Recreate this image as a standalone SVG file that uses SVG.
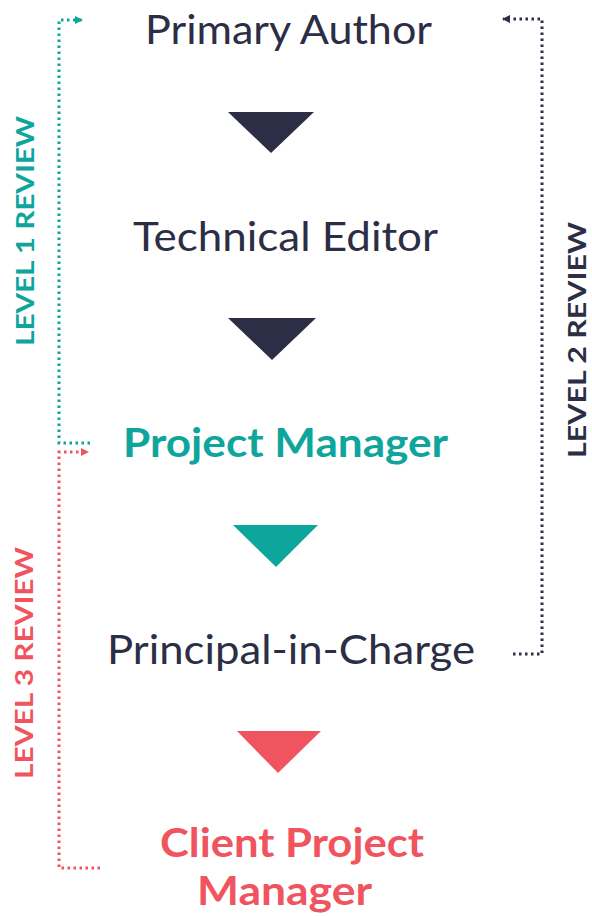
<svg xmlns="http://www.w3.org/2000/svg" width="592" height="916" viewBox="0 0 592 916">
<style>
.t{font-family:Lato,"Liberation Sans",sans-serif;font-size:41px;text-anchor:middle;fill:#2b2e44}
.b{font-weight:bold}
.lab{font-family:Lato,"Liberation Sans",sans-serif;font-size:25px;font-weight:bold;text-anchor:middle}
.dot{fill:none;stroke-width:3;stroke-dasharray:2.5 3.5}
</style>
<defs>
<marker id="aT" markerWidth="8" markerHeight="8" refX="7" refY="4" orient="auto" markerUnits="userSpaceOnUse"><path d="M0,0 L8,4 L0,8 Z" fill="#0ea59c"/></marker>
<marker id="aD" markerWidth="8" markerHeight="8" refX="7" refY="4" orient="auto" markerUnits="userSpaceOnUse"><path d="M0,0 L8,4 L0,8 Z" fill="#2b2e44"/></marker>
<marker id="aR" markerWidth="8" markerHeight="8" refX="7" refY="4" orient="auto" markerUnits="userSpaceOnUse"><path d="M0,0 L8,4 L0,8 Z" fill="#f0545e"/></marker>
</defs>
<g id="connectors">
<path class="dot" stroke="#0ea59c" d="M90,443 H59 V20 H82" marker-end="url(#aT)"/>
<path class="dot" stroke="#2b2e44" d="M513,654 H542 V19 H503" marker-end="url(#aD)"/>
<path class="dot" stroke="#f0545e" d="M100,868 H59 V452 H88" marker-end="url(#aR)"/>
<polygon points="228,112 314,112 271,153" fill="#2b2e44"/>
<polygon points="228,318 316,318 272,360" fill="#2b2e44"/>
<polygon points="233,525 318,525 276,567" fill="#0ea59c"/>
<polygon points="237,731 321,731 278,773" fill="#f0545e"/>
</g>
<g id="n1"><text class="t" x="288.5" y="44" textLength="287" lengthAdjust="spacingAndGlyphs">Primary Author</text></g>
<g id="n2"><text class="t" x="285.5" y="251" textLength="305" lengthAdjust="spacingAndGlyphs">Technical Editor</text></g>
<g id="n3"><text class="t b" x="285.5" y="457" style="fill:#0ea59c" textLength="325" lengthAdjust="spacingAndGlyphs">Project Manager</text></g>
<g id="n4"><text class="t" x="291" y="664" textLength="368" lengthAdjust="spacingAndGlyphs">Principal-in-Charge</text></g>
<g id="n5"><text class="t b" style="fill:#f0545e" x="292" y="857" textLength="264" lengthAdjust="spacingAndGlyphs">Client Project</text><text class="t b" style="fill:#f0545e" x="284.5" y="905" textLength="175" lengthAdjust="spacingAndGlyphs">Manager</text></g>
<g id="labels">
<text class="lab" fill="#0ea59c" transform="translate(34,231) rotate(-90)" textLength="230" lengthAdjust="spacingAndGlyphs">LEVEL 1 REVIEW</text>
<text class="lab" fill="#2b2e44" transform="translate(586,340) rotate(-90)" textLength="236" lengthAdjust="spacingAndGlyphs">LEVEL 2 REVIEW</text>
<text class="lab" fill="#f0545e" transform="translate(33,663) rotate(-90)" textLength="232" lengthAdjust="spacingAndGlyphs">LEVEL 3 REVIEW</text>
</g>
</svg>
